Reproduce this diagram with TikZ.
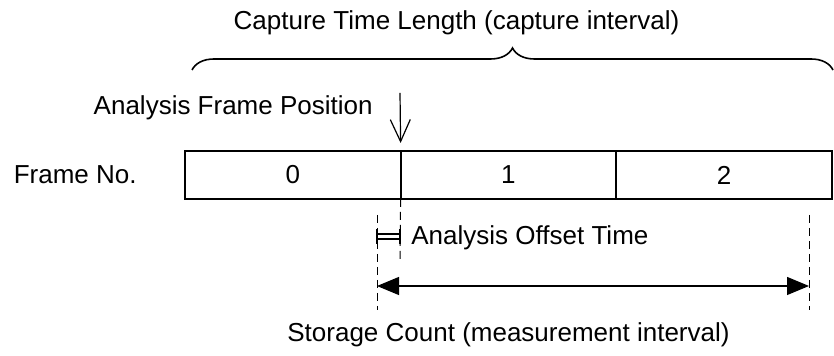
\documentclass[tikz,border=0pt]{standalone}
\usepackage{fontspec}
\setmainfont{Liberation Sans}
\usetikzlibrary{arrows.meta,positioning,decorations.pathreplacing}

\begin{document}
\begin{tikzpicture}[
x=0.5pt,y=-0.5pt,
every node/.style={font=\fontsize{13}{15}\selectfont},
frame/.style={draw,line width=0.9pt,minimum width=107.8pt,minimum height=24pt,inner sep=0pt,outer sep=0pt},
guide/.style={dash pattern=on 4pt off 2.5pt,line width=0.5pt},
thin line/.style={line width=0.6pt}
]
\useasboundingbox (0,0) rectangle (834,356);

% Frames
\node[frame] (f0) at (292.8,175) {0};
\node[frame,right=0pt of f0] (f1) {1};
\node[frame,right=0pt of f1] (f2) {2};
\node[left=24pt of f0,inner sep=0pt] (frameno) {Frame No.};

% Capture interval
\node[anchor=base] (title) at (456.5,30) {Capture Time Length (capture interval)};
\coordinate (capL) at (192,70);
\coordinate (capR) at (833,70);
\draw[decorate,decoration={brace,amplitude=11pt},line width=0.8pt] (capL) -- (capR);

% Analysis frame position
\coordinate (postop) at (400,93);
\node[anchor=east,inner sep=0pt] (pos) at (373,108) {Analysis Frame Position};
\draw[-{Straight Barb[length=11pt,width=10pt]},thin line]
(postop) -- ([yshift=4pt]f1.north west);

% Guide lines
\coordinate (offR) at (400,263);
\coordinate (mLtop) at (377,215);
\coordinate (mLbot) at (377,310);
\coordinate (mRtop) at (809,215);
\coordinate (mRbot) at (809,310);
\draw[guide] (f1.south west) -- (offR);
\draw[guide] (mLtop) -- (mLbot);
\draw[guide] (mRtop) -- (mRbot);

% Analysis offset time
\draw[thin line] (377,229) -- (377,244) (400,229) -- (400,244);
\draw[thin line] (377,234) -- (400,234) (377,239) -- (400,239);
\node[anchor=west,inner sep=0pt] (offset) at (411,238) {Analysis Offset Time};

% Storage count
\coordinate (mL) at (377,286);
\coordinate (mR) at (809,286);
\draw[{Triangle[length=11pt,width=9pt]}-{Triangle[length=11pt,width=9pt]},thin line]
(mL) -- (mR);
\node[anchor=base east,inner sep=0pt] (storage) at (730,342) {Storage Count (measurement interval)};

\end{tikzpicture}
\end{document}
